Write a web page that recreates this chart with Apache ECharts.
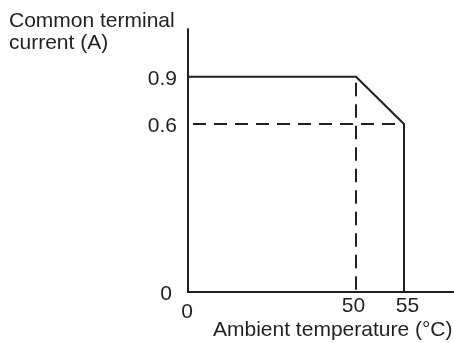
<!DOCTYPE html>
<html>
<head>
<meta charset="utf-8">
<script src="https://cdn.jsdelivr.net/npm/echarts@6/dist/echarts.min.js"></script>
<style>
  html, body { margin: 0; padding: 0; background: #fff; }
  #chart { width: 454px; height: 343px; }
</style>
</head>
<body>
<div id="chart"></div>
<script>
// Derating curve: common terminal current against ambient temperature
const temperatures = [0, 50, 55, 55];      // °C
const currents = [0.9, 0.9, 0.6, 0];       // A
const kneeTemps = [50, 50];                // dashed drop line at 50 °C
const kneeCurrents = [0.9, 0];
const reducedTemps = [0, 55];              // dashed level line at 0.6 A
const reducedCurrents = [0.6, 0.6];
const xTicks = [0, 50, 55];
const yTicks = [0, 0.6, 0.9];

// Both axes are drawn "not to scale": piecewise-linear scales where each
// labelled value sits at a fixed share (0–100) of the axis length.
const xScale = { values: [0, 50, 55], stops: [0, 63.16, 81.2] };
const yScale = { values: [0, 0.6, 0.9], stops: [0, 63.88, 81.86] };

function warp(v, s) {
  const n = s.values.length;
  for (let i = 1; i < n; i++) {
    if (v <= s.values[i] || i === n - 1) {
      const a = s.values[i - 1], b = s.values[i];
      return s.stops[i - 1] + (v - a) / (b - a) * (s.stops[i] - s.stops[i - 1]);
    }
  }
}
const wx = v => warp(v, xScale);
const wy = v => warp(v, yScale);
const pts = (xs, ys) => xs.map((x, i) => [wx(x), wy(ys[i])]);
// Tick label text; a few labels carry a rich style that nudges them
const tickLabel = (ticks, w, styles) => v => {
  const t = ticks.find(t => Math.abs(w(t) - v) < 1e-6);
  if (t === undefined) return '';
  const key = styles[String(t)];
  return key ? '{' + key + '|' + t + '}' : String(t);
};

const ink = '#231f20';
const font = "'Liberation Sans', Arial, Helvetica, sans-serif";
const txt = { fontSize: 21, fontFamily: font, color: ink };

const chart = echarts.init(document.getElementById('chart'), null, { renderer: 'canvas' });
chart.setOption({
  animation: false,
  grid: { left: 188, top: 29, right: 0, bottom: 51, containLabel: false },
  xAxis: {
    type: 'value', min: 0, max: 100,
    axisLine: { show: true, lineStyle: { color: ink, width: 2 } },
    axisTick: { show: false },
    splitLine: { show: false },
    axisLabel: Object.assign({
      customValues: xTicks.map(wx),
      formatter: tickLabel(xTicks, wx, { '0': 'z', '50': 'l', '55': 'r' }),
      margin: 4,
      rich: {
        z: Object.assign({ lineHeight: 33, padding: [0, 2, 0, 0] }, txt),
        l: Object.assign({ padding: [0, 5, 0, 0] }, txt),
        r: Object.assign({ padding: [0, 0, 0, 7] }, txt)
      }
    }, txt)
  },
  yAxis: {
    type: 'value', min: 0, max: 100,
    axisLine: { show: true, lineStyle: { color: ink, width: 2 } },
    axisTick: { show: false },
    splitLine: { show: false },
    axisLabel: Object.assign({
      customValues: yTicks.map(wy),
      formatter: tickLabel(yTicks, wy, { '0': 'z' }),
      margin: 11,
      padding: [5, 0, 0, 0],
      rich: { z: Object.assign({ padding: [0, 5, 0, 0] }, txt) }
    }, txt)
  },
  graphic: [
    {
      type: 'text', left: 9, top: 10,
      style: { text: 'Common terminal\ncurrent (A)', font: '21px ' + font, fill: ink, lineHeight: 22 }
    },
    {
      type: 'text', left: 213, top: 320,
      style: { text: 'Ambient temperature (°C)', font: '21px ' + font, fill: ink }
    }
  ],
  series: [
    {
      type: 'line', data: pts(reducedTemps, reducedCurrents), symbol: 'none', z: 1,
      lineStyle: { color: ink, width: 2, type: [13, 8], dashOffset: 16 }
    },
    {
      type: 'line', data: pts(kneeTemps, kneeCurrents), symbol: 'none', z: 1,
      lineStyle: { color: ink, width: 2, type: [13.5, 8], dashOffset: 15.5 }
    },
    {
      type: 'line', data: pts(temperatures, currents), symbol: 'none', z: 2,
      lineStyle: { color: ink, width: 2 }
    }
  ]
});
</script>
</body>
</html>
